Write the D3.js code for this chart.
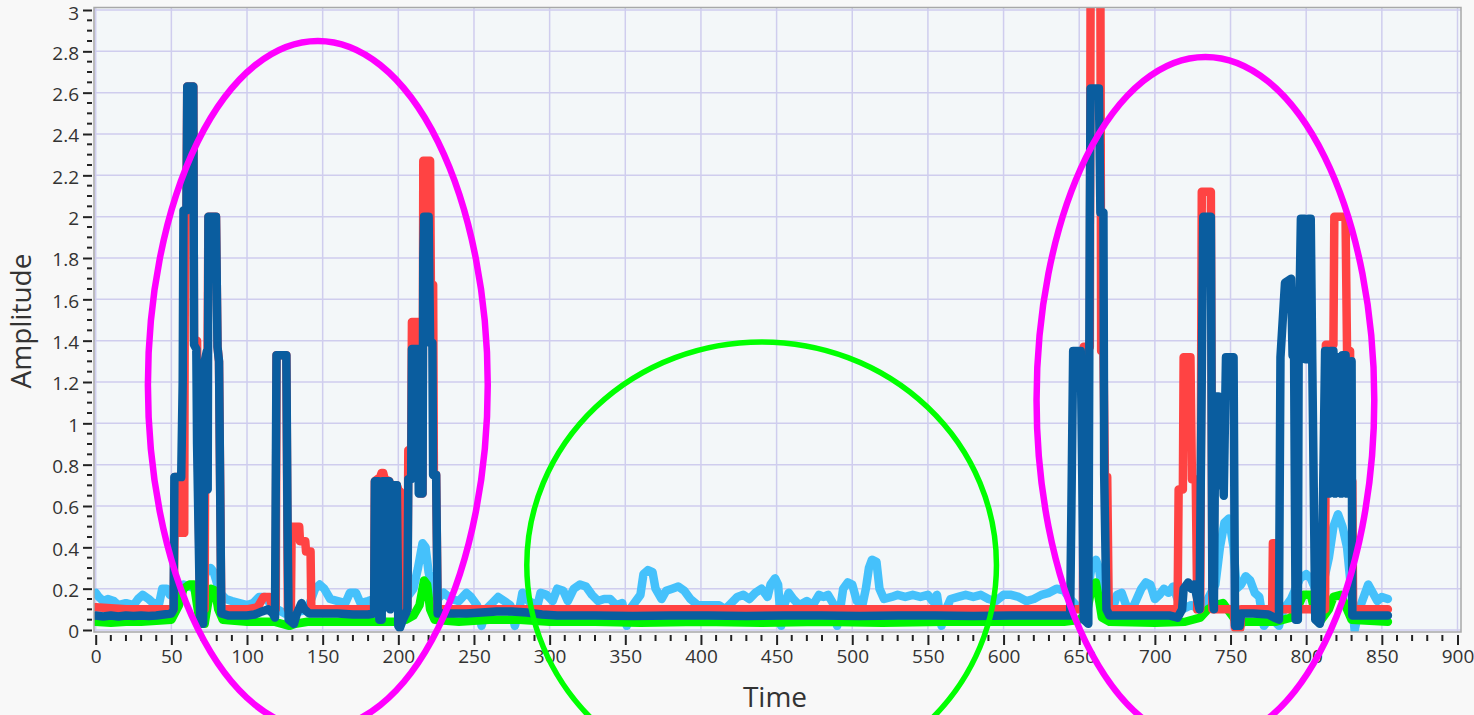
<!DOCTYPE html>
<html>
<head>
<meta charset="utf-8">
<script src="https://cdn.jsdelivr.net/npm/d3@7"></script>
<style>
  html, body { margin: 0; padding: 0; background: #f8f8f8; }
  svg { display: block; }
  text { font-family: "Open Sans", "Noto Sans", sans-serif; }
</style>
</head>
<body>
<svg id="chart" width="1474" height="715"></svg>
<script>
// ---------------- DATA ----------------
const xTickLabels = [0,50,100,150,200,250,300,350,400,450,500,550,600,650,700,750,800,850,900];
const yTickLabels = ["0","0.2","0.4","0.6","0.8","1","1.2","1.4","1.6","1.8","2","2.2","2.4","2.6","2.8","3"];
const xLabel = "Time";
const yLabel = "Amplitude";

// series as [time, amplitude] points
const lightBlue = [[0,0.18],[2,0.16],[5,0.14],[8,0.15],[12,0.14],[15,0.12],[20,0.13],[25,0.12],[28,0.15],[31,0.17],[35,0.15],[38,0.13],[42,0.13],[44,0.2],[47,0.2],[49,0.17],[51,0.18],[55,0.19],[58,0.22],[62,0.21],[66,0.2],[70,0.22],[73,0.28],[76,0.3],[78,0.28],[82,0.18],[86,0.15],[90,0.14],[95,0.13],[100,0.12],[104,0.13],[108,0.16],[112,0.16],[116,0.12],[120,0.1],[125,0.08],[130,0.08],[140,0.1],[145,0.2],[148,0.22],[151,0.2],[155,0.15],[160,0.14],[165,0.13],[168,0.18],[172,0.18],[175,0.13],[180,0.14],[184,0.15],[190,0.17],[195,0.14],[200,0.12],[205,0.15],[210,0.2],[213,0.3],[216,0.42],[218,0.4],[220,0.28],[223,0.18],[226,0.15],[230,0.18],[235,0.15],[240,0.14],[245,0.18],[248,0.16],[252,0.12],[255,0.02],[258,0.1],[262,0.13],[266,0.16],[270,0.14],[274,0.12],[277,0.02],[280,0.1],[282,0.18],[286,0.14],[292,0.12],[294,0.18],[298,0.17],[302,0.14],[305,0.2],[309,0.19],[312,0.14],[316,0.2],[320,0.22],[324,0.21],[328,0.17],[332,0.14],[336,0.15],[340,0.15],[344,0.12],[348,0.13],[351,0.02],[353,0.1],[356,0.13],[360,0.17],[362,0.27],[365,0.29],[368,0.28],[370,0.2],[374,0.15],[377,0.19],[381,0.2],[385,0.21],[389,0.19],[393,0.15],[398,0.12],[405,0.12],[412,0.12],[416,0.1],[420,0.13],[424,0.16],[428,0.17],[432,0.15],[436,0.18],[440,0.2],[444,0.16],[446,0.22],[449,0.25],[451,0.22],[453,0.02],[455,0.12],[458,0.18],[461,0.15],[465,0.12],[470,0.14],[474,0.12],[478,0.17],[481,0.16],[484,0.17],[488,0.12],[490,0.02],[492,0.1],[494,0.2],[497,0.23],[500,0.22],[503,0.14],[507,0.13],[509,0.2],[511,0.3],[513,0.34],[516,0.33],[518,0.2],[521,0.15],[526,0.16],[530,0.17],[535,0.16],[540,0.17],[545,0.16],[550,0.17],[553,0.14],[556,0.17],[559,0.02],[562,0.1],[565,0.15],[570,0.16],[575,0.17],[580,0.16],[585,0.17],[590,0.15],[595,0.14],[600,0.17],[605,0.17],[610,0.16],[615,0.14],[620,0.15],[625,0.17],[630,0.18],[635,0.2],[640,0.19],[644,0.15],[648,0.12],[652,0.1],[655,0.15],[658,0.3],[661,0.34],[663,0.3],[666,0.15],[669,0.08],[672,0.1],[675,0.17],[678,0.18],[681,0.12],[685,0.1],[688,0.15],[691,0.2],[694,0.23],[697,0.22],[700,0.15],[703,0.17],[706,0.2],[709,0.18],[712,0.21],[715,0.15],[718,0.1],[724,0.12],[730,0.1],[735,0.15],[740,0.22],[743,0.4],[746,0.52],[749,0.54],[752,0.4],[754,0.2],[757,0.22],[760,0.26],[763,0.24],[766,0.18],[769,0.16],[772,0.02],[775,0.05],[778,0.05],[782,0.02],[785,0.1],[790,0.15],[793,0.2],[796,0.25],[800,0.27],[803,0.25],[806,0.2],[809,0.15],[812,0.25],[815,0.35],[818,0.5],[821,0.56],[824,0.5],[827,0.4],[829,0.25],[832,0.0],[835,0.1],[838,0.16],[841,0.22],[844,0.18],[847,0.14],[850,0.16],[854,0.15]];

const green = [[0,0.04],[10,0.035],[20,0.04],[30,0.04],[40,0.045],[50,0.05],[55,0.12],[58,0.2],[62,0.22],[65,0.22],[67,0.12],[69,0.03],[72,0.03],[74,0.12],[76,0.2],[79,0.19],[81,0.1],[84,0.05],[100,0.04],[118,0.04],[128,0.02],[132,0.03],[140,0.04],[160,0.04],[180,0.04],[200,0.04],[205,0.05],[210,0.07],[214,0.12],[217,0.24],[219,0.22],[221,0.1],[224,0.05],[240,0.04],[260,0.05],[280,0.05],[300,0.04],[330,0.04],[360,0.035],[400,0.04],[440,0.035],[480,0.04],[520,0.035],[560,0.04],[600,0.04],[640,0.04],[650,0.05],[655,0.08],[658,0.2],[661,0.23],[663,0.15],[665,0.06],[670,0.04],[700,0.035],[720,0.04],[730,0.06],[735,0.1],[740,0.12],[745,0.13],[750,0.08],[755,0.03],[760,0.04],[780,0.04],[790,0.06],[795,0.12],[798,0.17],[803,0.17],[806,0.08],[810,0.05],[815,0.1],[818,0.16],[823,0.17],[827,0.1],[830,0.05],[854,0.04]];

const red = [[0,0.11],[20,0.1],[45,0.1],[51.5,0.1],[52.5,0.74],[55.5,0.74],[56,0.47],[58.5,0.47],[59,2.03],[60,2.03],[60.5,2.63],[64.5,2.63],[65,1.4],[67,1.4],[67.5,0.9],[69,0.1],[72,0.1],[72.5,1.15],[73.5,0.88],[74.5,2.0],[79.5,2.0],[80.5,1.37],[81.5,1.3],[83,0.1],[100,0.1],[107,0.11],[111,0.16],[115,0.16],[117,0.1],[119,0.1],[119.5,1.33],[126,1.33],[127,0.1],[129,0.1],[129.5,0.5],[134.5,0.5],[135,0.43],[138.5,0.43],[139,0.38],[142,0.38],[142.5,0.1],[160,0.1],[184,0.1],[184.5,0.72],[188,0.74],[189,0.76],[190,0.76],[191,0.73],[194,0.72],[195,0.7],[199,0.7],[200,0.68],[203.5,0.65],[204,0.1],[206,0.1],[206.6,0.87],[208.5,0.87],[209,1.49],[213.5,1.49],[214,0.66],[216,0.66],[216.5,2.27],[221,2.27],[221.5,1.67],[223,1.67],[223.5,0.75],[225,0.75],[226,0.1],[300,0.1],[400,0.1],[500,0.1],[600,0.1],[652.5,0.1],[653,1.37],[657,1.37],[657.5,3.1],[664,3.1],[664.5,1.35],[666,1.35],[667,0.74],[668.5,0.74],[669.5,0.1],[700,0.1],[715,0.1],[715.7,0.68],[718.5,0.68],[719,1.32],[723.5,1.32],[724.5,0.73],[727,0.73],[728,0.1],[730,0.1],[731,2.12],[737,2.12],[738,0.1],[752,0.1],[753,0.01],[756.5,0.01],[757,0.1],[777.5,0.1],[778,0.42],[781,0.42],[781.5,0.1],[812.5,0.1],[813,1.38],[818,1.38],[818.6,2.0],[826,2.0],[827,1.35],[829,1.35],[829.6,0.72],[830.5,0.72],[831,0.1],[854,0.1]];

const darkBlue = [[0,0.07],[5,0.065],[10,0.07],[15,0.065],[20,0.07],[25,0.068],[30,0.07],[35,0.068],[40,0.07],[45,0.075],[50,0.08],[51.5,0.1],[52,0.74],[56.5,0.74],[57.5,1.2],[58,2.03],[60,2.03],[60.5,2.63],[64.5,2.63],[65,1.38],[66.5,1.36],[67,0.9],[69,0.05],[71,0.03],[72,1.3],[73.5,1.35],[74,0.68],[74.5,2.0],[79.5,2.0],[80.5,1.37],[81.5,1.3],[83,0.08],[88,0.07],[95,0.07],[100,0.07],[105,0.075],[110,0.09],[114,0.1],[117,0.08],[118.5,0.06],[119.5,1.33],[126,1.33],[126.8,0.5],[127.5,0.05],[131,0.03],[133,0.08],[136,0.13],[138,0.1],[141,0.08],[150,0.08],[160,0.08],[170,0.075],[180,0.075],[184,0.08],[184.5,0.72],[187,0.72],[187.5,0.05],[189,0.05],[189.5,0.72],[194,0.72],[194.5,0.1],[195.5,0.7],[199,0.7],[200,0.02],[201,0.01],[203,0.05],[205,0.08],[206,0.1],[206.6,0.73],[208.5,0.73],[209,1.36],[213,1.36],[213.5,0.66],[216,0.66],[216.5,1.8],[217,2.0],[220,2.0],[221,1.39],[222.5,1.39],[223,0.75],[225,0.75],[226,0.08],[235,0.08],[245,0.08],[255,0.085],[265,0.09],[275,0.09],[285,0.085],[295,0.075],[305,0.07],[330,0.07],[355,0.068],[380,0.07],[405,0.07],[430,0.068],[455,0.07],[480,0.07],[505,0.068],[530,0.07],[555,0.07],[580,0.068],[605,0.07],[630,0.07],[640,0.07],[644,0.07],[645,0.7],[646,1.35],[651,1.35],[652,0.75],[653,0.05],[656,0.03],[657,2.0],[657.5,2.62],[663,2.62],[664,2.02],[666,2.02],[666.5,0.75],[668,0.1],[670,0.07],[680,0.07],[690,0.07],[700,0.07],[710,0.07],[715,0.06],[718,0.1],[719,0.2],[722,0.23],[724,0.2],[726,0.22],[728,0.15],[729.5,0.1],[730.5,0.85],[732,2.0],[737,2.0],[738,0.2],[739,0.1],[740,1.13],[742,1.13],[743,0.7],[744,1.1],[745.5,0.65],[746.5,1.1],[747,1.32],[752,1.32],[753,0.02],[756,0.02],[757,0.08],[765,0.08],[775,0.075],[779,0.06],[782,0.05],[783,1.32],[786,1.68],[790,1.7],[791,1.33],[792,1.33],[793,0.05],[794.5,0.05],[795,1.33],[796.5,1.99],[799,1.99],[799.5,1.31],[801,1.31],[801.5,1.99],[803,1.99],[804,1.31],[805,0.68],[806,0.05],[809,0.03],[810,0.06],[812.5,1.35],[814,1.35],[815,0.66],[816,1.35],[818,1.35],[819,0.66],[820.5,1.32],[822,1.32],[823,0.66],[824,1.33],[826,1.33],[827,0.66],[829,0.66],[830,1.3],[830.5,0.07],[840,0.07],[854,0.07]];

// annotation ellipses in data units: [centerTime, centerAmp, radiusTime, radiusAmp]
const magentaLeft  = [146.8, 1.185, 112.3, 1.665];
const magentaRight = [733.4, 1.113, 111.6, 1.66];
const greenCircle  = [440.1, 0.315, 155.2, 1.079];

// ---------------- CHART ----------------
const svg = d3.select("#chart");
const W = 1474, H = 715;
const x = d3.scaleLinear().domain([0, 900]).range([95.7, 1457.5]);
const y = d3.scaleLinear().domain([0, 3]).range([630, 10]);

const frame = {x0: 94, x1: 1461, y0: 7.5, y1: 632};

svg.append("rect").attr("width", W).attr("height", H).attr("fill", "#f8f8f8");
svg.append("rect").attr("x", frame.x0).attr("y", frame.y0)
  .attr("width", frame.x1 - frame.x0).attr("height", frame.y1 - frame.y0)
  .attr("fill", "#f3f7f9");

svg.append("defs").append("clipPath").attr("id", "clip")
  .append("rect").attr("x", frame.x0).attr("y", frame.y0)
  .attr("width", frame.x1 - frame.x0).attr("height", frame.y1 - frame.y0);

// grid
const grid = svg.append("g");
grid.selectAll(".vg").data(xTickLabels).join("line")
  .attr("x1", d => x(d)).attr("x2", d => x(d))
  .attr("y1", frame.y0).attr("y2", frame.y1)
  .attr("stroke", "#cfcdee").attr("stroke-width", 1.5);
grid.selectAll(".hg").data(yTickLabels).join("line")
  .attr("x1", frame.x0).attr("x2", frame.x1)
  .attr("y1", d => y(+d)).attr("y2", d => y(+d))
  .attr("stroke", "#cfcdee").attr("stroke-width", 1.5);

// series
const line = d3.line().x(d => x(d[0])).y(d => y(d[1]));
const plot = svg.append("g").attr("clip-path", "url(#clip)");
const series = [
  {data: lightBlue, color: "#45c1fb"},
  {data: green, color: "#00f500"},
  {data: red, color: "#ff4343"},
  {data: darkBlue, color: "#0a5d9f"}
];
plot.selectAll("path").data(series).join("path")
  .attr("d", d => line(d.data))
  .attr("fill", "none")
  .attr("stroke", d => d.color)
  .attr("stroke-width", 8.5)
  .attr("stroke-linejoin", "round")
  .attr("stroke-linecap", "round");

// frame border
svg.append("rect").attr("x", frame.x0).attr("y", frame.y0)
  .attr("width", frame.x1 - frame.x0).attr("height", frame.y1 - frame.y0)
  .attr("fill", "none").attr("stroke", "#a8a8a8").attr("stroke-width", 1.5);

// y axis ticks
const yAxis = d3.axisLeft(y)
  .tickValues(yTickLabels.map(Number))
  .tickFormat((d, i) => yTickLabels[i])
  .tickSize(9).tickPadding(4);
const yG = svg.append("g").attr("transform", `translate(${frame.x0 - 2},0)`).call(yAxis);
yG.select(".domain").remove();
yG.selectAll(".tick line").attr("stroke", "#222").attr("stroke-width", 2);
yG.selectAll(".tick text").attr("font-size", 19).attr("fill", "#333")
  .attr("font-family", "'Open Sans', sans-serif")
  .attr("dy", (d, i) => i === yTickLabels.length - 1 ? "0.5em" : "0.42em");

const yMinor = d3.range(0, 3.0001, 0.05).filter(v => Math.abs(v * 5 - Math.round(v * 5)) > 1e-6);
svg.append("g").selectAll("line").data(yMinor).join("line")
  .attr("x1", frame.x0 - 7).attr("x2", frame.x0 - 2)
  .attr("y1", d => y(d)).attr("y2", d => y(d))
  .attr("stroke", "#222").attr("stroke-width", 2);

// x axis ticks
const xAxis = d3.axisBottom(x)
  .tickValues(xTickLabels)
  .tickFormat(d => String(d))
  .tickSize(10).tickPadding(5);
const xG = svg.append("g").attr("transform", `translate(0,${frame.y1 + 3})`).call(xAxis);
xG.select(".domain").remove();
xG.selectAll(".tick line").attr("stroke", "#222").attr("stroke-width", 2);
xG.selectAll(".tick text").attr("font-size", 19).attr("fill", "#333")
  .attr("font-family", "'Open Sans', sans-serif");

const xMinor = d3.range(0, 901, 10).filter(v => v % 50 !== 0);
svg.append("g").selectAll("line").data(xMinor).join("line")
  .attr("x1", d => x(d)).attr("x2", d => x(d))
  .attr("y1", frame.y1 + 3).attr("y2", frame.y1 + 9)
  .attr("stroke", "#222").attr("stroke-width", 2);

// axis labels
svg.append("text").attr("x", 775).attr("y", 707).attr("text-anchor", "middle")
  .attr("font-size", 28).attr("fill", "#333").text(xLabel);
svg.append("text").attr("transform", "translate(31,321) rotate(-90)")
  .attr("text-anchor", "middle").attr("font-size", 28).attr("fill", "#333").text(yLabel);

// annotation ellipses
const ann = [
  {e: magentaLeft, color: "#ff00ff", w: 6.5},
  {e: magentaRight, color: "#ff00ff", w: 6.5},
  {e: greenCircle, color: "#00ff00", w: 5.5}
];
svg.append("g").selectAll("ellipse").data(ann).join("ellipse")
  .attr("cx", d => x(d.e[0]))
  .attr("cy", d => y(d.e[1]))
  .attr("rx", d => x(d.e[2]) - x(0))
  .attr("ry", d => y(0) - y(d.e[3]))
  .attr("fill", "none")
  .attr("stroke", d => d.color)
  .attr("stroke-width", d => d.w);
</script>
</body>
</html>
